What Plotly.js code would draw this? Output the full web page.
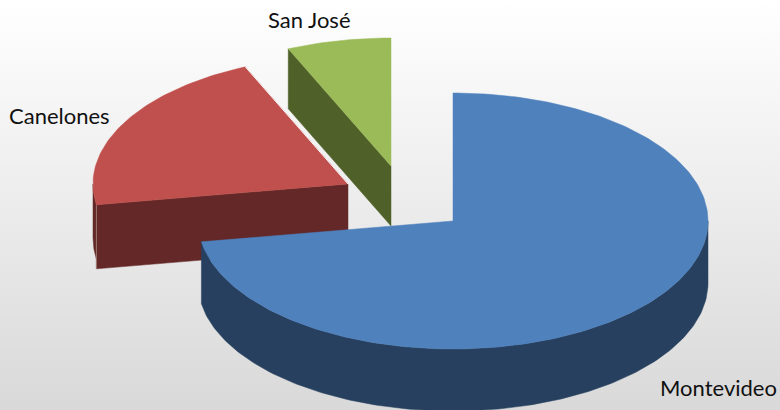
<!DOCTYPE html>
<html>
<head>
<meta charset="utf-8">
<script src="https://cdn.plot.ly/plotly-3.0.1.min.js"></script>
<style>
html,body{margin:0;padding:0;width:780px;height:410px;overflow:hidden;background:linear-gradient(180deg,#ffffff 0%,#d9d9d9 100%);}
#chart{width:780px;height:410px;}
</style>
</head>
<body>
<div id="chart"></div>
<script>
// Data
const categories = ["Montevideo", "Canelones", "San José"];
const values = [72.4, 21.0, 6.6];
const topColors = ["#4F81BD", "#C0504D", "#9BBB59"];
const sideColors = ["#27405F", "#632827", "#4F6028"];

// Projection of the tilted pie (plot units = pixels)
const radiusX = 255, radiusY = 128;
const depths = [62, 64, 60];
const centerX = [453, 348, 391];
const centerY = [221, 184, 166];
const labelX = [658, 7, 266];
const labelY = [387, 115, 19];

const total = values.reduce((a, b) => a + b, 0);
const point = (i, deg, drop) => {
  const r = deg * Math.PI / 180;
  return [centerX[i] + radiusX * Math.sin(r), centerY[i] - radiusY * Math.cos(r) + (drop || 0)];
};
const arc = (i, from, to, drop) => {
  const pts = [], n = Math.max(2, Math.ceil(Math.abs(to - from)));
  for (let k = 0; k <= n; k++) pts.push(point(i, from + (to - from) * k / n, drop));
  return pts;
};
const poly = (pts, color) => ({
  type: "scatter", mode: "lines", fill: "toself", fillcolor: color,
  x: pts.map(p => p[0]).concat(pts[0][0]), y: pts.map(p => p[1]).concat(pts[0][1]),
  line: {color: color, width: 0.5}, hoverinfo: "skip", showlegend: false
});
const edge = (pts, color, width) => ({
  type: "scatter", mode: "lines", x: pts.map(p => p[0]), y: pts.map(p => p[1]),
  line: {color: color, width: width}, hoverinfo: "skip", showlegend: false
});

// Angles are clockwise from 12 o'clock
const starts = [], ends = [];
let acc = 0;
values.forEach((v, i) => { starts[i] = acc; acc += v / total * 360; ends[i] = acc; });

const apex = (i, drop) => [centerX[i], centerY[i] + (drop || 0)];
const traces = [];

// San José: cut face towards the viewer, then top
{
  const i = 2, a = starts[i], d = depths[i];
  traces.push(poly([point(i, a), apex(i), apex(i, d), point(i, a, d)], sideColors[i]));
  traces.push(poly([apex(i)].concat(arc(i, starts[i], ends[i])), topColors[i]));
}
// Canelones: rim wall, cut face, top, light edges
{
  const i = 1, a = starts[i], d = depths[i];
  traces.push(poly(arc(i, a, 270).concat(arc(i, 270, a, d - 10)), sideColors[i]));
  traces.push(poly([point(i, a), apex(i), apex(i, d), point(i, a, d)], sideColors[i]));
  traces.push(edge([point(i, a), point(i, a, d)], "#a98583", 0.8));
  traces.push(poly([apex(i)].concat(arc(i, starts[i], ends[i])), topColors[i]));
  traces.push(edge([apex(i), point(i, ends[i])], "#ffffff", 0.9));
}
// Montevideo: rim wall then top
{
  const i = 0, d = depths[i];
  traces.push(poly(arc(i, 90, ends[i]).concat(arc(i, ends[i], 90, d)), sideColors[i]));
  traces.push(poly([apex(i)].concat(arc(i, starts[i], ends[i])), topColors[i]));
}

const layout = {
  width: 780, height: 410,
  margin: {l: 0, r: 0, t: 0, b: 0},
  paper_bgcolor: "rgba(0,0,0,0)", plot_bgcolor: "rgba(0,0,0,0)",
  showlegend: false,
  xaxis: {range: [0, 780], visible: false, fixedrange: true},
  yaxis: {range: [410, 0], visible: false, fixedrange: true},
  annotations: categories.map((c, i) => ({
    text: c, x: labelX[i], y: labelY[i], xref: "x", yref: "y",
    xanchor: "left", yanchor: "middle", showarrow: false,
    font: {family: "Lato, 'Open Sans', sans-serif", size: 22, color: "#111111"}
  }))
};
Plotly.newPlot("chart", traces, layout, {displayModeBar: false, staticPlot: true});
</script>
</body>
</html>
